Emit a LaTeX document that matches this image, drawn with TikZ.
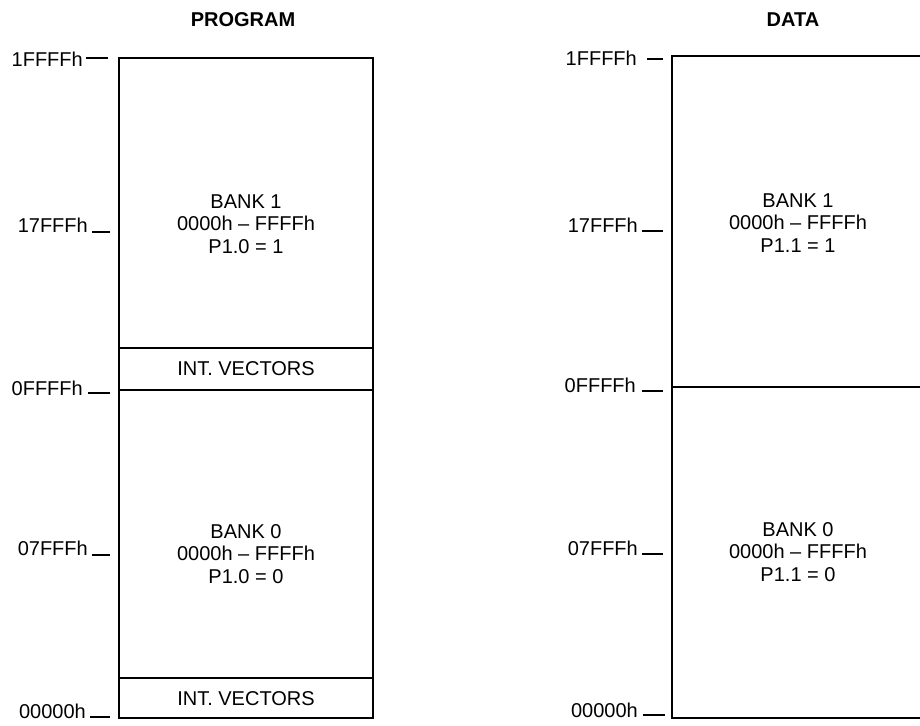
\documentclass[tikz,border=0pt]{standalone}
\usepackage{fontspec}
\setmainfont{Liberation Sans}
\begin{document}
\begin{tikzpicture}[x=1pt,y=-1pt,
  txt/.style={font=\fontsize{20}{22.5}\selectfont, inner sep=0pt, align=center},
  ttl/.style={font=\fontsize{20}{22}\selectfont\bfseries, inner sep=0pt},
  addr/.style={font=\fontsize{20}{22}\selectfont, inner sep=0pt, anchor=east},
  boxline/.style={line width=1.6pt},
  divline/.style={line width=1.3pt},
  tick/.style={line width=1.2pt}]
\useasboundingbox (0,0) rectangle (920,725);

% titles
\node[ttl] (tprog) at (243,20) {PROGRAM};
\node[ttl] (tdata) at (793,20) {DATA};

% ---------- PROGRAM ----------
\coordinate (ptl) at (119,58);
\coordinate (pbr) at (373,718);
\draw[boxline] (ptl) rectangle (pbr);
\coordinate (pv1l) at (119,348); \coordinate (pv1r) at (373,348);
\coordinate (pmidl) at (119,390); \coordinate (pmidr) at (373,390);
\coordinate (pv0l) at (119,678); \coordinate (pv0r) at (373,678);
\draw[divline] (pv1l) -- (pv1r);
\draw[divline] (pmidl) -- (pmidr);
\draw[divline] (pv0l) -- (pv0r);

\node[txt] (pbank1) at (246,224) {BANK 1\\0000h -- FFFFh\\P1.0 = 1};
\node[txt] (pbank0) at (246,554) {BANK 0\\0000h -- FFFFh\\P1.0 = 0};
\node[txt] (pint1) at (246,369) {INT. VECTORS};
\node[txt] (pint0) at (246,699) {INT. VECTORS};

\node[addr] (pa1) at (83,59) {1FFFFh};
\node[addr] (pa2) at (88,225) {17FFFh};
\node[addr] (pa3) at (83,388) {0FFFFh};
\node[addr] (pa4) at (86,711) {00000h};
\node[addr] (pa5) at (88,548) {07FFFh};

\coordinate (pd1a) at (86,58);  \coordinate (pd1b) at (108,58);
\coordinate (pd2a) at (92,232); \coordinate (pd2b) at (110,232);
\coordinate (pd3a) at (88,393); \coordinate (pd3b) at (110,393);
\coordinate (pd5a) at (92,555); \coordinate (pd5b) at (110,555);
\coordinate (pd4a) at (90,717); \coordinate (pd4b) at (110,717);
\draw[tick] (pd1a) -- (pd1b);
\draw[tick] (pd2a) -- (pd2b);
\draw[tick] (pd3a) -- (pd3b);
\draw[tick] (pd5a) -- (pd5b);
\draw[tick] (pd4a) -- (pd4b);

% ---------- DATA ----------
\coordinate (dtr) at (930,56);
\coordinate (dtl) at (672,56);
\coordinate (dbl) at (672,718);
\coordinate (dbr) at (930,718);
\draw[boxline] (dtr) -- (dtl) -- (dbl) -- (dbr);
\coordinate (dmidl) at (672,387); \coordinate (dmidr) at (930,387);
\draw[divline] (dmidl) -- (dmidr);

\node[txt] (dbank1) at (798,223) {BANK 1\\0000h -- FFFFh\\P1.1 = 1};
\node[txt] (dbank0) at (798,552) {BANK 0\\0000h -- FFFFh\\P1.1 = 0};

\node[addr] (da1) at (637,58) {1FFFFh};
\node[addr] (da2) at (638,225) {17FFFh};
\node[addr] (da3) at (636,385) {0FFFFh};
\node[addr] (da5) at (638,548) {07FFFh};
\node[addr] (da4) at (638,710) {00000h};

\coordinate (dd1a) at (647,59);  \coordinate (dd1b) at (663,59);
\coordinate (dd2a) at (642,231); \coordinate (dd2b) at (663,231);
\coordinate (dd3a) at (642,391); \coordinate (dd3b) at (663,391);
\coordinate (dd5a) at (642,554); \coordinate (dd5b) at (663,554);
\coordinate (dd4a) at (643,715); \coordinate (dd4b) at (665,715);
\draw[tick] (dd1a) -- (dd1b);
\draw[tick] (dd2a) -- (dd2b);
\draw[tick] (dd3a) -- (dd3b);
\draw[tick] (dd5a) -- (dd5b);
\draw[tick] (dd4a) -- (dd4b);
\end{tikzpicture}
\end{document}
